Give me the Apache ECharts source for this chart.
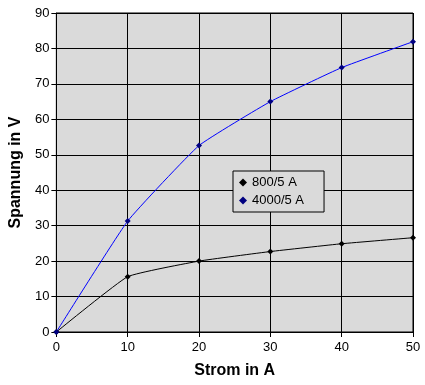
<!DOCTYPE html>
<html><head><meta charset="utf-8">
<script src="https://cdn.jsdelivr.net/npm/echarts@6/dist/echarts.min.js"></script>
<style>html,body{margin:0;padding:0;background:#fff}#c{width:425px;height:385px}</style>
</head><body><div id="c"></div>
<script>
const strom = [0, 10, 20, 30, 40, 50];
const s800 = [0, 15.6, 20.0, 22.7, 24.9, 26.6];
const s4000 = [0, 31.3, 52.6, 65.0, 74.6, 81.9];
const names = ['800/5 A', '4000/5 A'];

const chart = echarts.init(document.getElementById('c'));
const font = 'Arial, "Liberation Sans", sans-serif';
chart.setOption({
  animation: false,
  grid: {left: 53, top: 13, right: 12, bottom: 53, show: true, backgroundColor: '#dadada', borderColor: '#000', borderWidth: 1},
  legend: {
    orient: 'vertical', left: 233, top: 171, padding: [5, 20, 5, 6], itemGap: 5,
    backgroundColor: '#dadada', borderColor: '#000', borderWidth: 1,
    itemWidth: 8, itemHeight: 8, icon: 'diamond',
    textStyle: {fontFamily: font, fontSize: 13, color: '#000'},
    data: names
  },
  xAxis: {
    type: 'value', min: 0, max: 50, interval: 10,
    name: 'Strom in A', nameLocation: 'middle', nameGap: 31,
    nameTextStyle: {fontFamily: font, fontSize: 16, fontWeight: 'bold', color: '#000'},
    axisLine: {lineStyle: {color: '#000'}},
    axisTick: {show: true, length: 5, lineStyle: {color: '#000'}},
    axisLabel: {fontFamily: font, fontSize: 13, color: '#000', margin: 9},
    splitLine: {show: true, lineStyle: {color: '#000', width: 1}}
  },
  yAxis: {
    type: 'value', min: 0, max: 90, interval: 10,
    name: 'Spannung in V', nameLocation: 'middle', nameGap: 29,
    nameTextStyle: {fontFamily: font, fontSize: 16, fontWeight: 'bold', color: '#000'},
    axisLine: {show: true, lineStyle: {color: '#000'}},
    axisTick: {show: true, length: 5, lineStyle: {color: '#000'}},
    axisLabel: {fontFamily: font, fontSize: 13, color: '#000', margin: 7},
    splitLine: {show: true, lineStyle: {color: '#000', width: 1}}
  },
  series: [
    {name: names[0], type: 'line', smooth: 0.12, data: strom.map((x, i) => [x, s800[i]]),
     symbol: 'diamond', symbolSize: 6, itemStyle: {color: '#000'}, lineStyle: {color: '#000', width: 1}},
    {name: names[1], type: 'line', smooth: 0.12, data: strom.map((x, i) => [x, s4000[i]]),
     symbol: 'diamond', symbolSize: 6, itemStyle: {color: '#000080'}, lineStyle: {color: '#0000ff', width: 1}}
  ]
});
</script></body></html>
